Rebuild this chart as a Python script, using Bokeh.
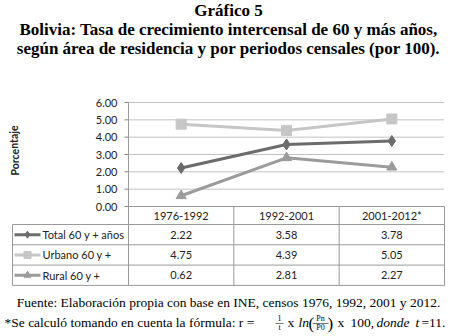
from bokeh.plotting import figure
from bokeh.models import Range1d, Label
from bokeh.embed import file_html
from bokeh.resources import INLINE
from bokeh.core.properties import value

# ---------------- data ----------------
periods = ["1976-1992", "1992-2001", "2001-2012*"]
series_names = ["Total 60 y + años", "Urbano 60 y +", "Rural 60 y +"]
total = [2.22, 3.58, 3.78]
urbano = [4.75, 4.39, 5.05]
rural = [0.62, 2.81, 2.27]
y_ticks = [0, 1, 2, 3, 4, 5, 6]
y_label = "Porcentaje"
title_lines = [
    "Gráfico 5",
    "Bolivia: Tasa de crecimiento intercensal de 60 y más años,",
    "según área de residencia y por periodos censales (por 100).",
]
source_note = "Fuente: Elaboración propia con base en INE, censos 1976, 1992, 2001 y 2012."

series = [total, urbano, rural]
colors = ["#6c6c6c", "#c6c6c6", "#9b9b9b"]
markers = ["diamond", "square", "triangle"]
marker_sizes = [11, 10, 10]

SERIF = "Liberation Serif"
SANS = "Lato"
W, H = 456, 336

# ---------------- geometry (pixels of the page) ----------------
PLOT_L, PLOT_R, PLOT_T, PLOT_B = 128, 444, 102, 206
TABLE_L = 12
n = len(periods)
ppx = (PLOT_R - PLOT_L) / n                 # pixels per category
ppy = (PLOT_B - PLOT_T) / (y_ticks[-1] - y_ticks[0])   # pixels per unit
x0 = -0.5 - PLOT_L / ppx
y0 = y_ticks[0] - (H - PLOT_B) / ppy

p = figure(width=W, height=H,
           x_range=Range1d(x0, x0 + W / ppx), y_range=Range1d(y0, y0 + H / ppy),
           min_border=0, x_axis_location=None, y_axis_location=None,
           output_backend="svg", toolbar_location=None)
p.outline_line_color = None
p.grid.visible = False
p.background_fill_color = "white"
p.border_fill_color = "white"

xs = list(range(n))
left = -0.5
right = n - 0.5
grid_c = "#858585"

# y axis: gridlines, axis line, ticks and tick labels
gy = [t for t in y_ticks if t != y_ticks[0]]
p.segment(x0=[left] * len(gy), x1=[right] * len(gy), y0=gy, y1=gy,
          line_color=grid_c, line_width=1, line_dash="1 1")
p.segment(x0=[left - 4 / ppx] * len(y_ticks), x1=[left] * len(y_ticks), y0=y_ticks, y1=y_ticks,
          line_color=grid_c, line_width=1)
p.text(x=[left] * len(y_ticks), y=y_ticks, text=[f"{t:.2f}" for t in y_ticks],
       x_offset=-11, text_align="right", text_baseline="middle",
       text_font=value(SANS), text_font_size="11px", text_color="#222222")

# ---------------- table ----------------
tc = "#9a9a9a"
hdr_h = 18 / ppy
row_h = 20.3 / ppy
tab_left = x0 + TABLE_L / ppx
row_edges = [0, -hdr_h] + [-hdr_h - row_h * (k + 1) for k in range(len(series_names))]
bottom = row_edges[-1]
# horizontal borders
hx0 = [left] + [tab_left] * (len(row_edges) - 1)
p.segment(x0=hx0, x1=[right] * len(row_edges), y0=row_edges, y1=row_edges,
          line_color=tc, line_width=1)
# vertical borders (first one continues the y axis line up to the top tick)
vx = [left] + [i + 0.5 for i in range(n)] + [tab_left]
vy0 = [y_ticks[-1]] + [0] * n + [-hdr_h]
p.segment(x0=vx, x1=vx, y0=vy0, y1=[bottom] * len(vx), line_color=tc, line_width=1)

# header text
p.text(x=xs, y=[-hdr_h / 2] * n, text=periods, text_font=value(SANS),
       text_font_size="11px", text_align="center", text_baseline="middle", text_color="#222222")
# value cells
cx, cy, ct = [], [], []
for r, vals in enumerate(series):
    for i, v in enumerate(vals):
        cx.append(i)
        cy.append(-hdr_h - row_h * (r + 0.5))
        ct.append(f"{v:.2f}")
p.text(x=cx, y=cy, text=ct, text_font=value(SANS), text_font_size="11px",
       text_align="center", text_baseline="middle", text_color="#222222")
# legend keys in the first column
for r, (name, c, m) in enumerate(zip(series_names, colors, markers)):
    yy = -hdr_h - row_h * (r + 0.5)
    p.segment(x0=[tab_left + 2 / ppx], x1=[tab_left + 28 / ppx], y0=[yy], y1=[yy],
              line_color=c, line_width=3)
    p.scatter(x=[tab_left + 15 / ppx], y=[yy], marker=m, size=7, fill_color=c, line_color=c)
    p.text(x=[tab_left + 30 / ppx], y=[yy], text=[name], text_font=value(SANS),
           text_font_size="11px", text_align="left", text_baseline="middle", text_color="#222222")

# ---------------- series ----------------
for vals, c, m, s in zip(series, colors, markers, marker_sizes):
    p.line(xs, vals, line_color=c, line_width=3)
    p.scatter(xs, vals, marker=m, size=s, fill_color=c, line_color=c)


# ---------------- texts ----------------
def lab(x, ytop, t, size="13.5px", style="normal", align="left", font=SERIF, angle=0.0,
        color="black"):
    p.add_layout(Label(x=x, y=H - ytop, x_units="screen", y_units="screen", text=t,
                       angle=angle, text_align=align, text_baseline="middle", text_font=font,
                       text_font_size=size, text_font_style=style, text_color=color))


for t, yy in zip(title_lines, [10, 29, 48]):
    lab(W / 2, yy, t, size="17px", style="bold", align="center")

lab(14, 150, y_label, size="10.5px", style="bold", align="center", font=SANS,
    angle=1.5708, color="#222222")

lab(W / 2, 302, source_note, align="center")
yb = 322
lab(4, yb, "*Se calculó tomando en cuenta la fórmula:  r =")
lab(279, yb - 4.5, "1", size="8px", align="center")
lab(279, yb, "—", size="8px", align="center")
lab(279, yb + 5, "t", size="8px", align="center")
lab(287, yb, "x")
lab(298, yb, "ln", style="italic")
lab(308, yb + 0.5, "(", size="17px")
lab(320, yb - 4.5, "Pn", size="8px", align="center")
lab(320, yb, "——", size="8px", align="center")
lab(320, yb + 5, "P0", size="8px", align="center")
lab(327, yb + 0.5, ")", size="17px")
lab(337, yb, "x")
lab(350, yb, "100,")
lab(376, yb, "donde", style="italic")
lab(415, yb, "t", style="italic")
lab(421, yb, "=11.")

open("out.html", "w").write(file_html(p, INLINE))
